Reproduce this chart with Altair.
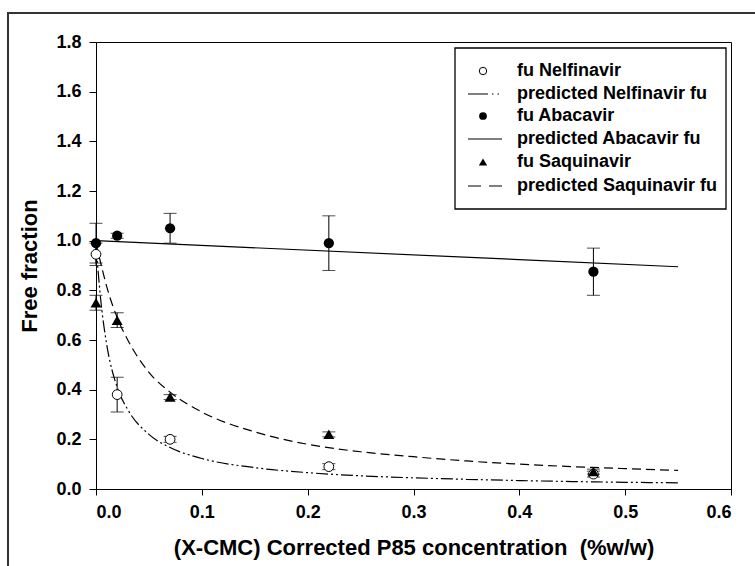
import altair as alt
import pandas as pd

# Observed free fraction (mean and error) at each corrected P85 concentration
x_obs = [0.0, 0.02, 0.07, 0.22, 0.47]
nel_fu = [0.945, 0.38, 0.20, 0.09, 0.06]
nel_err = [0.045, 0.07, 0.012, 0.012, 0.012]
aba_fu = [0.99, 1.02, 1.05, 0.99, 0.875]
aba_err = [0.08, 0.01, 0.06, 0.11, 0.095]
saq_fu = [0.75, 0.68, 0.37, 0.22, 0.07]
saq_err = [0.03, 0.03, 0.01, 0.01, 0.01]

# Predicted free fraction curves
x_pred = [0.0, 0.005, 0.01, 0.02, 0.03, 0.05, 0.07, 0.1, 0.15, 0.2,
          0.25, 0.3, 0.35, 0.4, 0.45, 0.5, 0.55]
nel_pred = [0.98, 0.74, 0.585, 0.41, 0.32, 0.22, 0.167, 0.123, 0.086, 0.066,
            0.053, 0.045, 0.039, 0.034, 0.030, 0.027, 0.025]
saq_pred = [0.99, 0.90, 0.817, 0.69, 0.60, 0.47, 0.39, 0.31, 0.23, 0.18,
            0.15, 0.13, 0.113, 0.10, 0.09, 0.082, 0.075]
aba_pred_x = [0.0, 0.55]
aba_pred = [1.0, 0.895]

FONT = "Liberation Sans"
W, H = 635, 447

xs = alt.Scale(domain=[0, 0.6], nice=False, zero=False)
ys = alt.Scale(domain=[0, 1.8], nice=False, zero=False)

obs = pd.DataFrame({
    "x": x_obs * 3,
    "fu": nel_fu + aba_fu + saq_fu,
    "err": nel_err + aba_err + saq_err,
    "drug": ["Nelfinavir"] * 5 + ["Abacavir"] * 5 + ["Saquinavir"] * 5,
})
obs["lo"] = obs["fu"] - obs["err"]
obs["hi"] = obs["fu"] + obs["err"]

x_enc = alt.X("x:Q", scale=xs, axis=alt.Axis(
    title="(X-CMC) Corrected P85 concentration\u00a0\u00a0(%w/w)",
    values=[0, 0.1, 0.2, 0.3, 0.4, 0.5, 0.6], format=".1f",
    grid=False, tickSize=6, labelPadding=8, titlePadding=16,
    domainColor="black", tickColor="black", labelColor="black",
    labelFont=FONT, labelFontSize=18, labelFontWeight="bold",
    titleFont=FONT, titleFontSize=22, titleFontWeight="bold", titleColor="black"))
y_axis = alt.Axis(
    title="Free fraction",
    values=[0, 0.2, 0.4, 0.6, 0.8, 1.0, 1.2, 1.4, 1.6, 1.8], format=".1f",
    grid=False, tickSize=7, labelPadding=8, titlePadding=14,
    domainColor="black", tickColor="black", labelColor="black",
    labelFont=FONT, labelFontSize=18, labelFontWeight="bold",
    titleFont=FONT, titleFontSize=22, titleFontWeight="bold", titleColor="black")

base = alt.Chart(obs)

bars = base.mark_rule(color="black", strokeWidth=1).encode(
    x=x_enc, y=alt.Y("lo:Q", scale=ys, axis=y_axis), y2="hi:Q")
cap_hi = base.mark_tick(color="black", orient="horizontal", size=13, thickness=1).encode(
    x=alt.X("x:Q", scale=xs), y=alt.Y("hi:Q", scale=ys))
cap_lo = base.mark_tick(color="black", orient="horizontal", size=13, thickness=1).encode(
    x=alt.X("x:Q", scale=xs), y=alt.Y("lo:Q", scale=ys))

curves = pd.DataFrame({
    "x": x_pred * 2 + aba_pred_x,
    "fu": nel_pred + saq_pred + aba_pred,
    "model": ["Nelfinavir"] * len(x_pred) + ["Saquinavir"] * len(x_pred) + ["Abacavir"] * 2,
})

dash_nel = [12, 3, 2, 3, 2, 3]
dash_saq = [9, 5]


def curve(name, dash):
    m = alt.Chart(curves).transform_filter(alt.datum.model == name)
    kw = dict(color="black", strokeWidth=1.2, interpolate="monotone")
    if dash:
        kw["strokeDash"] = dash
    return m.mark_line(**kw).encode(
        x=alt.X("x:Q", scale=xs), y=alt.Y("fu:Q", scale=ys), order="x:Q")


line_nel = curve("Nelfinavir", dash_nel)
line_saq = curve("Saquinavir", dash_saq)
line_aba = curve("Abacavir", None)

pts_nel = base.transform_filter(alt.datum.drug == "Nelfinavir").mark_point(
    shape="circle", filled=True, fill="white", stroke="black", strokeWidth=1, size=95, opacity=1
).encode(x=alt.X("x:Q", scale=xs), y=alt.Y("fu:Q", scale=ys))
pts_aba = base.transform_filter(alt.datum.drug == "Abacavir").mark_point(
    shape="circle", filled=True, color="black", size=105, opacity=1
).encode(x=alt.X("x:Q", scale=xs), y=alt.Y("fu:Q", scale=ys))
pts_saq = base.transform_filter(alt.datum.drug == "Saquinavir").mark_point(
    shape="triangle-up", filled=True, color="black", size=120, opacity=1
).encode(x=alt.X("x:Q", scale=xs), y=alt.Y("fu:Q", scale=ys))

# Hand-drawn legend box in the upper right of the plot
one = alt.Data(values=[{"k": 0}])
legend_layers = [
    alt.Chart(one).mark_rect(fill="white", stroke="black", strokeWidth=1.3).encode(
        x=alt.value(359), x2=alt.value(630), y=alt.value(6), y2=alt.value(167)),
]
labels = ["fu Nelfinavir", "predicted Nelfinavir fu", "fu Abacavir",
          "predicted Abacavir fu", "fu Saquinavir", "predicted Saquinavir fu"]
row_y = [29, 52, 74, 97, 120, 144]
sym_x, line_x0, line_x1, text_x = 387, 372, 406, 421
for lab, ry in zip(labels, row_y):
    legend_layers.append(alt.Chart(one).mark_text(
        text=lab, align="left", baseline="middle", font=FONT, fontSize=18,
        fontWeight="bold", color="black").encode(x=alt.value(text_x), y=alt.value(ry)))
legend_layers += [
    alt.Chart(one).mark_point(shape="circle", filled=True, fill="white", stroke="black",
                              strokeWidth=1, size=55, opacity=1).encode(
        x=alt.value(sym_x), y=alt.value(row_y[0])),
    alt.Chart(one).mark_rule(color="black", strokeWidth=1.2,
                             strokeDash=[20, 4, 1.5, 4, 1.5, 10]).encode(
        x=alt.value(line_x0), x2=alt.value(line_x1), y=alt.value(row_y[1])),
    alt.Chart(one).mark_point(shape="circle", filled=True, color="black", size=60,
                              opacity=1).encode(x=alt.value(sym_x), y=alt.value(row_y[2])),
    alt.Chart(one).mark_rule(color="black", strokeWidth=1.2).encode(
        x=alt.value(line_x0), x2=alt.value(line_x1), y=alt.value(row_y[3])),
    alt.Chart(one).mark_point(shape="triangle-up", filled=True, color="black", size=70,
                              opacity=1).encode(x=alt.value(sym_x), y=alt.value(row_y[4])),
    alt.Chart(one).mark_rule(color="black", strokeWidth=1.2, strokeDash=[13, 8]).encode(
        x=alt.value(line_x0), x2=alt.value(line_x1), y=alt.value(row_y[5])),
]

# Outer figure frame
frame = alt.Chart(one).mark_rect(fill=None, stroke="#333333", strokeWidth=2).encode(
    x=alt.value(-88), x2=alt.value(670), y=alt.value(-29), y2=alt.value(540))

chart = alt.layer(
    frame, bars, cap_hi, cap_lo, line_nel, line_saq, line_aba,
    pts_nel, pts_aba, pts_saq, *legend_layers
).properties(
    width=W, height=H,
    padding={"left": 96, "top": 42, "right": 24, "bottom": 77},
    autosize=alt.AutoSizeParams(type="none"),
    background="white",
).configure_view(stroke="black", strokeWidth=1)

chart.save("out.html", embed_options={"renderer": "svg", "actions": False})
